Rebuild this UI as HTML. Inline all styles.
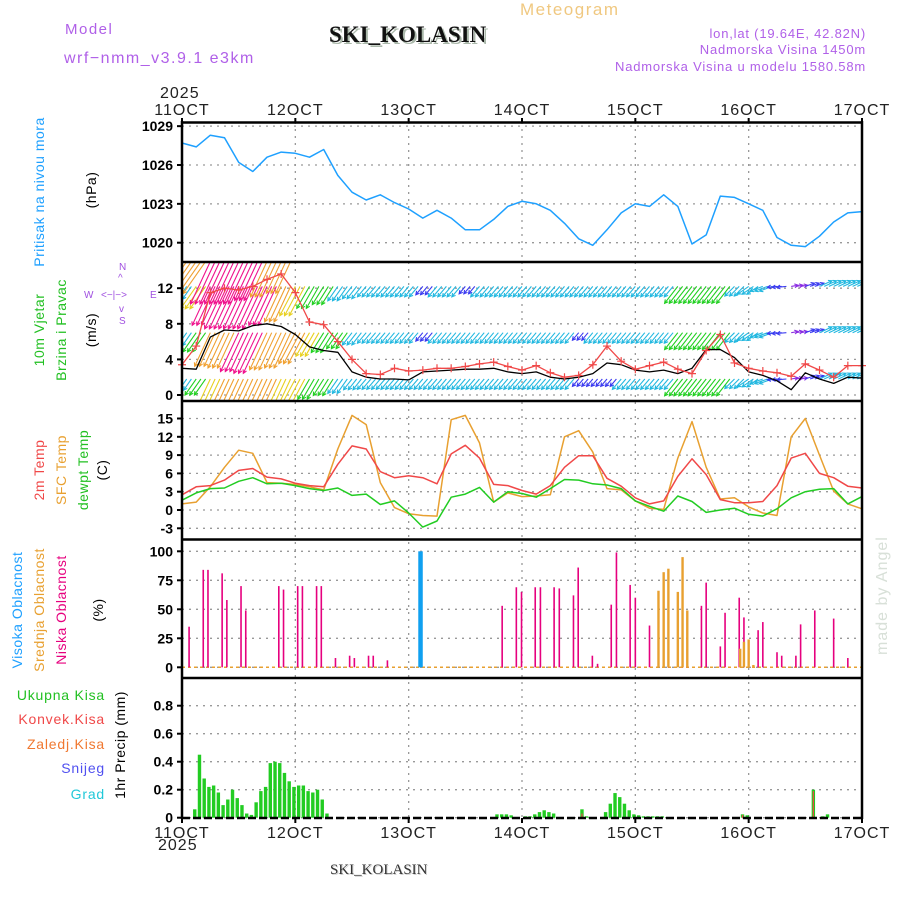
<!DOCTYPE html>
<html><head><meta charset="utf-8"><style>
html,body{margin:0;padding:0;background:#fff}
svg{display:block}
text{font-family:"Liberation Sans",sans-serif}
text.serif{font-family:"Liberation Serif",serif}
.tk{font-size:14px;fill:#000;font-weight:bold}
.dl{font-size:16px;fill:#222;letter-spacing:1px}
.grid{stroke:#999;stroke-width:1.3;stroke-dasharray:2,5}
.lbl{font-size:14px;letter-spacing:0.5px}
</style></head><body>
<svg id="chart" width="900" height="900" viewBox="0 0 900 900" xmlns="http://www.w3.org/2000/svg">
<defs><clipPath id="wclip"><rect x="182" y="263" width="680" height="137"/></clipPath></defs>
<text x="65" y="34" fill="#b060e8" font-size="15" letter-spacing="1.5">Model</text>
<text x="64" y="63" fill="#b060e8" font-size="16" letter-spacing="1.5">wrf−nmm_v3.9.1 e3km</text>
<text class="serif" x="331" y="44" fill="#aab8aa" font-size="23" font-weight="bold">SKI_KOLASIN</text>
<text class="serif" x="329" y="42" fill="#111" font-size="23" font-weight="bold">SKI_KOLASIN</text>
<text x="520" y="15" fill="#f0c880" font-size="17" letter-spacing="1.5">Meteogram</text>
<text x="866" y="38" fill="#b060e8" font-size="13" text-anchor="end" letter-spacing="0.8">lon,lat (19.64E, 42.82N)</text>
<text x="866" y="54" fill="#b060e8" font-size="13" text-anchor="end" letter-spacing="0.8">Nadmorska Visina 1450m</text>
<text x="866" y="71" fill="#b060e8" font-size="13" text-anchor="end" letter-spacing="0.8">Nadmorska Visina u modelu 1580.58m</text>
<text x="160" y="98" class="dl">2025</text>
<text x="158" y="850" class="dl">2025</text>
<text class="serif" x="331" y="875" fill="#ccc" font-size="15">SKI_KOLASIN</text>
<text class="serif" x="330" y="874" fill="#333" font-size="15">SKI_KOLASIN</text>
<text transform="translate(887,655) rotate(-90)" fill="#d8e0d8" font-size="16" letter-spacing="1">made by Angel</text>

<text transform="translate(44,192) rotate(-90)" text-anchor="middle" fill="#1ea0ff" class="lbl">Pritisak na nivou mora</text>
<text transform="translate(96,190) rotate(-90)" text-anchor="middle" fill="#000" class="lbl">(hPa)</text>
<text transform="translate(44,330) rotate(-90)" text-anchor="middle" fill="#22c022" class="lbl">10m Vjetar</text>
<text transform="translate(66,330) rotate(-90)" text-anchor="middle" fill="#22c022" class="lbl">Brzina i Pravac</text>
<text transform="translate(96,330) rotate(-90)" text-anchor="middle" fill="#000" class="lbl">(m/s)</text>
<g fill="#a050e0" font-size="10">
<text x="119" y="270">N</text><text x="118" y="281">^</text><text x="84" y="298">W</text><text x="101" y="298">&lt;−|−&gt;</text><text x="150" y="298">E</text><text x="119" y="312">v</text><text x="119" y="324">S</text></g>
<text transform="translate(44,470) rotate(-90)" text-anchor="middle" fill="#f04848" class="lbl">2m Temp</text>
<text transform="translate(66,470) rotate(-90)" text-anchor="middle" fill="#e8a030" class="lbl">SFC Temp</text>
<text transform="translate(88,470) rotate(-90)" text-anchor="middle" fill="#22c022" class="lbl">dewpt Temp</text>
<text transform="translate(107,470) rotate(-90)" text-anchor="middle" fill="#000" class="lbl">(C)</text>
<text transform="translate(22,610) rotate(-90)" text-anchor="middle" fill="#1ea0ff" class="lbl">Visoka Oblacnost</text>
<text transform="translate(44,610) rotate(-90)" text-anchor="middle" fill="#e8a030" class="lbl">Srednja Oblacnost</text>
<text transform="translate(66,610) rotate(-90)" text-anchor="middle" fill="#e6007e" class="lbl">Niska Oblacnost</text>
<text transform="translate(103,610) rotate(-90)" text-anchor="middle" fill="#000" class="lbl">(%)</text>
<g font-size="14" text-anchor="end" letter-spacing="0.8">
<text x="105" y="700" fill="#22c022">Ukupna Kisa</text>
<text x="105" y="724" fill="#f04848">Konvek.Kisa</text>
<text x="105" y="749" fill="#f07830">Zaledj.Kisa</text>
<text x="105" y="773" fill="#5050f0">Snijeg</text>
<text x="105" y="799" fill="#20c8d8">Grad</text></g>
<text transform="translate(125,745) rotate(-90)" text-anchor="middle" fill="#000" class="lbl">1hr Precip (mm)</text>
<g id="g"></g>
</svg>
<script>
const dayLabels=["11OCT","12OCT","13OCT","14OCT","15OCT","16OCT","17OCT"];
const pTicks=[1020,1023,1026,1029];
const wTicks=[0,4,8,12];
const tTicks=[-3,0,3,6,9,12,15];
const cTicks=[0,25,50,75,100];
const rTicks=[0,0.2,0.4,0.6,0.8];
const pressure=[1027.7,1027.4,1028.3,1028.1,1026.2,1025.5,1026.6,1027.0,1026.9,1026.6,1027.2,1025.2,1023.9,1023.3,1023.7,1023.1,1022.6,1021.9,1022.5,1021.9,1021.0,1021.0,1021.8,1022.8,1023.2,1023.0,1022.5,1021.5,1020.3,1019.8,1021.0,1022.3,1023.0,1022.8,1023.7,1022.8,1019.9,1020.6,1023.6,1023.5,1023.0,1022.5,1020.4,1019.8,1019.7,1020.5,1021.6,1022.3,1022.4];
const temp2m=[2.5,3.8,4.0,4.9,6.5,6.8,5.4,5.1,4.4,4.0,3.8,7.5,10.5,10.0,6.3,5.3,5.6,5.3,4.3,9.2,10.6,8.5,4.2,4.0,3.2,2.6,4.0,7.0,8.9,8.9,5.2,3.9,2.0,1.0,1.5,5.5,8.4,5.8,1.7,1.2,1.2,1.4,4.0,8.5,9.3,6.0,5.3,3.9,3.6];
const tempSfc=[1.0,1.3,3.8,7.0,9.8,9.3,4.5,4.4,4.2,3.8,3.3,10.0,15.5,14.0,4.5,0.4,-0.6,-0.9,-1.0,14.8,15.5,11.0,1.3,2.8,2.2,2.3,2.5,12.0,13.0,9.5,3.5,3.3,1.5,0.3,0.1,8.5,14.5,7.0,1.8,2.0,0.5,-0.5,-0.9,12.0,15.0,9.0,3.1,1.0,0.2];
const dewpt=[1.6,2.8,3.5,3.6,4.7,5.3,4.3,4.4,4.0,3.5,3.2,3.6,2.4,2.6,0.9,1.5,-0.5,-2.8,-1.8,2.1,2.6,3.7,1.3,3.0,2.7,2.1,3.5,5.0,4.9,4.3,4.1,3.5,1.5,0.6,-0.2,2.3,1.4,-0.4,0.0,0.3,-0.7,-1.0,0.2,2.0,3.0,3.4,3.5,1.0,2.2];
const windSpeed=[3.0,2.9,6.5,7.3,7.2,7.8,8.0,7.7,6.8,5.4,5.0,4.8,2.6,2.0,1.8,1.8,1.7,2.6,2.7,2.8,2.9,2.9,3.0,2.6,2.4,2.6,2.0,1.8,2.0,2.4,3.6,3.4,2.8,2.6,2.8,2.4,3.0,5.1,5.1,4.2,2.6,2.2,1.6,0.6,2.5,1.8,1.3,2.0,1.9];
const windGust=[3.4,5.5,11.5,12.0,11.8,12.2,13.0,13.6,11.5,8.2,7.9,6.0,4.0,2.4,2.3,3.0,2.7,2.8,3.0,3.0,3.2,3.5,3.7,3.2,2.8,3.3,2.5,2.0,2.2,3.4,5.5,3.8,2.9,3.3,3.7,2.9,2.4,5.0,6.8,3.6,3.0,2.7,2.5,2.1,3.5,2.8,2.0,3.3,3.3];
const windRow1=[3.5,5,8,9,9,9,9,8.5,7.5,6,5,4.5,3.5,3.5,3.5,3.5,3.5,3.5,3.5,3.5,3.5,3.5,3.5,3.5,3.5,3.5,3.5,3.5,2.5,2.5,2.5,3.5,3.5,3.5,3.5,5.5,5.5,5.5,5.5,3.5,3.5,3.5,2.5,1.8,2.5,3.5,3.5,3.5,3.5];
const windRow2=[4,6,9.5,10,11,11.5,10.5,10,9,7,6,5,4,3.5,3.5,3.5,3.5,2.8,3.5,3.5,3.5,3.5,3.5,3.5,3.5,3.5,3.5,3.5,2.5,3.5,3.5,3.5,3.5,3.5,3.5,5.5,5.5,5.5,5.5,3.5,3.5,3.5,2.5,1.8,2.5,3.5,3.5,3.5,3.5];
const windRow3=[4,7,11,12,12,12,11,10,8.5,6.5,5.5,4.5,4,3.5,3.5,3.5,3.5,2.8,3.5,3.5,2.5,3.5,3.5,3.5,3.5,3.5,3.5,3.5,3.5,3.5,3.5,3.5,3.5,3.5,3.5,5.5,5.5,5.5,5.5,3.5,3.5,3.5,2.5,1.8,2.5,3.5,3.5,3.5,3.5];
const windRow4=[10,10,12,12,12,11,10,9,0,0,0,0,0,0,0,0,0,0,0,0,0,0,0,0,0,0,0,0,0,0,0,0,0,0,0,0,0,0,0,0,0,0,0,0,0,0,0,0,0];
const windDir=[125,125,115,115,115,115,115,115,118,120,122,125,128,130,130,130,130,130,130,130,130,130,130,130,130,130,130,130,130,130,130,130,130,130,130,128,128,128,128,135,145,160,175,-10,-20,-25,-25,-25,-25];
const lowCloudHours=[1.5,4.5,5.5,8.5,9.5,12.5,13.5,20.5,21.5,24.5,25.5,28.5,29.5,32.5,35.5,36.5,39.5,40.5,43.5,67.8,70.8,71.9,74.8,75.9,78.8,79.9,82.9,83.9,86.9,88,90.9,92,94.9,96,99,103,106,107,110,111,114,115,118,119,122,123,126,127,130,131,134,138,141];
const lowCloud=[35,84,84,81,58,70,49,70,67,70,70,70,70,8,10,8,10,10,6,53,69,65,69,69,69,68,62,86,10,3,54,99,71,60,36,51,53,16,53,73,18,47,60,43,32,39,13,10,10,37,49,42,8];
const midCloudHours=[100.9,102,103,105,106,107,118.2,119,120,121];
const midCloud=[66,82,85,65,95,49,16,22,24,2];
const highCloudHours=[50.5];
const highCloud=[100];
const precipHours=[2,3,4,5,6,7,8,9,10,11,12,13,14,15,16,17,18,19,20,21,22,23,24,25,26,27,28,29,30,66,67,68,69,72,73,74,75,76,77,78,84,85,89,90,91,92,93,94,95,96,97,98,99,100,101,118,119,133,135,136];
const precipTotal=[0.06,0.45,0.28,0.22,0.23,0.18,0.09,0.13,0.20,0.14,0.09,0.03,0.02,0.11,0.19,0.22,0.39,0.40,0.39,0.32,0.26,0.22,0.23,0.23,0.19,0.18,0.20,0.13,0.03,0.024,0.024,0.024,0.017,0.01,0.01,0.024,0.04,0.053,0.04,0.03,0.06,0.01,0.04,0.10,0.176,0.147,0.10,0.053,0.024,0.017,0.01,0.01,0.01,0.01,0.01,0.024,0.017,0.2,0.01,0.024];
const convHours=[84,118,133];
const convPrecip=[0.03,0.02,0.19];

const NS="http://www.w3.org/2000/svg";
const G=document.getElementById('g');
function mk(tag,attrs,parent){const e=document.createElementNS(NS,tag);for(const k in attrs)e.setAttribute(k,attrs[k]);(parent||G).appendChild(e);return e;}
const X0=182,X1=862;
const xH=h=>X0+h*(X1-X0)/144;
const yP=p=>242.7-(p-1020)*12.95;
const yW=v=>395-v*8.9;
const yT=t=>510-t*6.1;
const yC=c=>667.3-c*1.16;
const yR=r=>817.7-r*140;

for(let d=1;d<6;d++){const l=mk('line',{x1:xH(d*24),x2:xH(d*24),y1:122,y2:818,class:'grid'});

}
function yaxis(ticks,fy,fmt,name){ticks.forEach(v=>{const y=fy(v);
const gl=mk('line',{x1:X0,x2:X1,y1:y,y2:y,class:'grid'});


mk('line',{x1:X0-5,x2:X0,y1:y,y2:y,stroke:'#000','stroke-width':2});
const t=mk('text',{x:X0-9,y:y+5,'text-anchor':'end',class:'tk'});t.textContent=fmt(v);

});}
yaxis(pTicks,yP,v=>v,'pressure');
yaxis(wTicks,yW,v=>v,'wind');
yaxis(tTicks,yT,v=>v,'temp');
yaxis(cTicks,yC,v=>v,'cloud');
yaxis(rTicks,yR,v=>v===0?'0':v.toFixed(1),'precip');
dayLabels.forEach((s,i)=>{const x=xH(i*24);
const t1=mk('text',{x:x,y:115,'text-anchor':'middle',class:'dl'});t1.textContent=s;


const t2=mk('text',{x:x,y:838,'text-anchor':'middle',class:'dl'});t2.textContent=s;


mk('line',{x1:x,x2:x,y1:118,y2:123,stroke:'#000','stroke-width':2});
mk('line',{x1:x,x2:x,y1:818,y2:823,stroke:'#000','stroke-width':2});});

function line(arr,fy,color,name,w){const pts=arr.map((v,i)=>xH(i*3).toFixed(1)+','+fy(v).toFixed(1)).join(' ');
const l=mk('polyline',{points:pts,fill:'none',stroke:color,'stroke-width':w||1.5,'stroke-linejoin':'round'});

return l;}
line(pressure,yP,'#1ea0ff','pressure-line');

const wg=mk('g',{'clip-path':'url(#wclip)'});


function wcol(v){if(v<2)return '#8a2be2';if(v<3)return '#3a3af0';if(v<4.6)return '#22b8e0';if(v<6.6)return '#22d022';if(v<8.6)return '#e8d020';if(v<10.6)return '#f0a030';return '#f0108c';}
const rows=[[windRow1,1.8],[windRow2,7.0],[windRow3,12.2],[windRow4,15.0]];
rows.forEach(([arr,base])=>{arr.forEach((v,k)=>{if(v<=0)return;
for(let j=0;j<3;j++){const h=k*3+j;if(h>144)break;
const x=xH(h),y=yW(base),a=windDir[k]*Math.PI/180,L=v*3.9;
const ex=x+L*Math.cos(a),ey=y+L*Math.sin(a),c=wcol(v);
const p=mk('path',{d:`M${x.toFixed(1)},${y.toFixed(1)}L${ex.toFixed(1)},${ey.toFixed(1)}M${(ex-4*Math.cos(a-0.5)).toFixed(1)},${(ey-4*Math.sin(a-0.5)).toFixed(1)}L${ex.toFixed(1)},${ey.toFixed(1)}L${(ex-4*Math.cos(a+0.5)).toFixed(1)},${(ey-4*Math.sin(a+0.5)).toFixed(1)}`,stroke:c,'stroke-width':1.1,fill:'none'},wg);

}});});
line(windSpeed,yW,'#000','wind-speed-line',1.3);
line(windGust,yW,'#f04848','wind-gust-line',1.3);
windGust.forEach((v,i)=>{const x=xH(i*3),y=yW(v);
const m=mk('path',{d:`M${x-4},${y}H${x+4}M${x},${y-4}V${y+4}`,stroke:'#f04848','stroke-width':1.2});

});

line(tempSfc,yT,'#e8a030','sfc-temp-line');
line(temp2m,yT,'#f04848','temp-2m-line');
line(dewpt,yT,'#22cc22','dewpoint-line');

mk('line',{x1:X0,x2:X1,y1:yC(0),y2:yC(0),stroke:'#e8a030','stroke-width':1.5,'stroke-dasharray':'3,3'});
lowCloudHours.forEach((h,i)=>{const x=xH(h);
const r=mk('rect',{x:x-0.8,y:yC(lowCloud[i]),width:1.6,height:yC(0)-yC(lowCloud[i]),fill:'#e6007e'});

});
midCloudHours.forEach((h,i)=>{const x=xH(h);
const r=mk('rect',{x:x-1.2,y:yC(midCloud[i]),width:2.4,height:yC(0)-yC(midCloud[i]),fill:'#e8a030'});

});
highCloudHours.forEach((h,i)=>{const x=xH(h);
const r=mk('rect',{x:x-2.2,y:yC(highCloud[i]),width:4.5,height:yC(0)-yC(highCloud[i]),fill:'#10a0f0'});

});

precipHours.forEach((h,i)=>{const x=xH(h+0.7);
const r=mk('rect',{x:x-1.7,y:yR(precipTotal[i]),width:3.4,height:yR(0)-yR(precipTotal[i]),fill:'#22cc22'});

});
convHours.forEach((h,i)=>{const x=xH(h+0.7);
const r=mk('rect',{x:x-0.6,y:yR(convPrecip[i]),width:1.2,height:yR(0)-yR(convPrecip[i]),fill:'#f04848'});

});

[122.5,262,401,539.5,678].forEach(y=>mk('line',{x1:X0,x2:X1,y1:y,y2:y,stroke:'#000','stroke-width':2.5}));
mk('line',{x1:X0,x2:X1,y1:818,y2:818,stroke:'#000','stroke-width':2.5,'stroke-dasharray':'8,3'});
mk('line',{x1:X0,x2:X0,y1:121,y2:819,stroke:'#000','stroke-width':2.5});
mk('line',{x1:X1,x2:X1,y1:121,y2:819,stroke:'#000','stroke-width':2.5});
</script>
</body></html>
